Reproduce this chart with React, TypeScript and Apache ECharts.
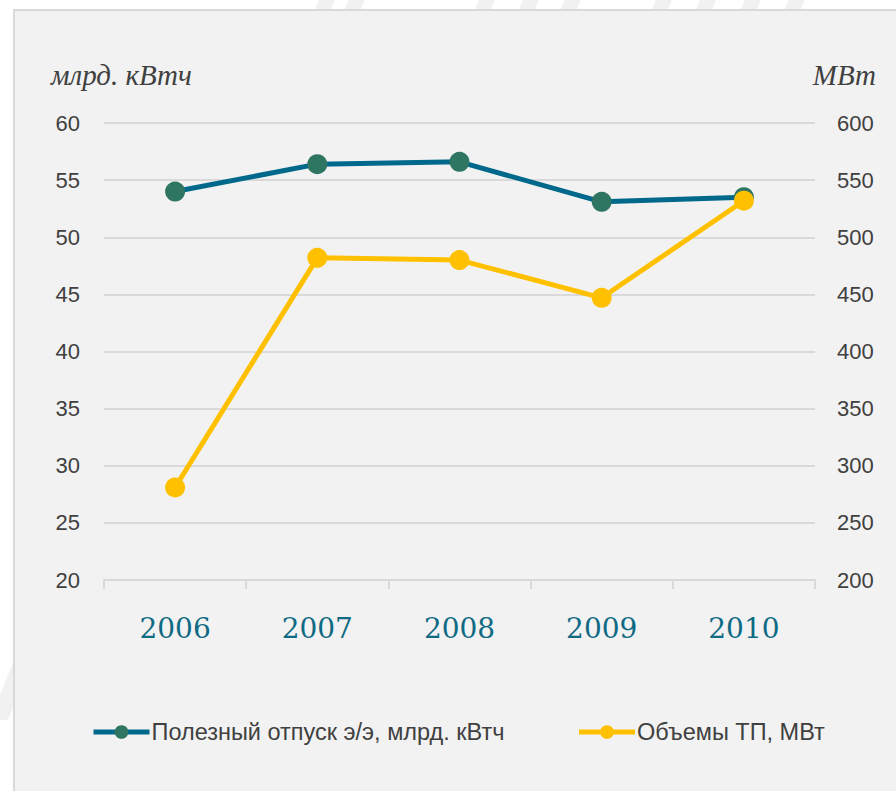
import React, { useEffect, useRef } from "react";
import * as echarts from "echarts";

const years = ["2006", "2007", "2008", "2009", "2010"];
const usefulSupply = [54.0, 56.4, 56.6, 53.1, 53.5];
const tpVolumes = [281, 482, 480, 447, 532];
const leftAxisName = "млрд. кВтч";
const rightAxisName = "МВт";
const seriesNames = ["Полезный отпуск э/э, млрд. кВтч", "Объемы ТП, МВт"];

export default function App() {
  const ref = useRef<HTMLDivElement>(null);
  useEffect(() => {
    if (!ref.current) return;
    const chart = echarts.init(ref.current, undefined, { renderer: "svg" });
    const stripe = (x: number, y0: number, y1: number, w: number) => ({
      type: "polygon",
      z: -20,
      silent: true,
      shape: {
        points: [
          [x, y1],
          [x + w, y1],
          [x + w + (y1 - y0) * 0.4, y0],
          [x + (y1 - y0) * 0.4, y0],
        ],
      },
      style: { fill: "#f1f1f1" },
    });
    const stripes: any[] = [];
    [314, 344, 474, 518, 560, 651, 695, 740, 784].forEach((x) => stripes.push(stripe(x, 0, 12, 16)));
    stripes.push(stripe(-10, 600, 720, 18));
    chart.setOption({
      animation: false,
      backgroundColor: "#ffffff",
      textStyle: { fontFamily: "Liberation Sans" },
      graphic: [
        ...stripes,
        {
          type: "rect",
          z: -10,
          silent: true,
          shape: { x: 14, y: 10, width: 900, height: 800 },
          style: { fill: "#f2f2f2", stroke: "#d9d9d9", lineWidth: 2 },
        },
        {
          type: "text",
          left: 51,
          top: 60,
          style: {
            text: leftAxisName,
            font: "italic 29px 'Liberation Serif'",
            fill: "#404040",
          },
        },
        {
          type: "text",
          right: 20,
          top: 60,
          style: {
            text: rightAxisName,
            font: "italic 29px 'Liberation Serif'",
            fill: "#404040",
          },
        },
      ],
      grid: { left: 104, right: 81, top: 123, bottom: 211, containLabel: false },
      legend: {
        left: 86,
        top: 715,
        itemWidth: 56,
        itemHeight: 17,
        itemGap: 72,
        lineStyle: { width: 5 },
        textStyle: { fontSize: 23.5, color: "#404040", fontFamily: "Liberation Sans", padding: [0, 0, 0, -3] },
        data: seriesNames,
      },
      xAxis: {
        type: "category",
        data: years,
        boundaryGap: true,
        axisLine: { lineStyle: { color: "#d9d9d9", width: 2 } },
        axisTick: { show: true, length: 9, lineStyle: { color: "#d9d9d9", width: 2 } },
        axisLabel: {
          margin: 34,
          fontSize: 28,
          color: "#0f6a84",
          fontFamily: "DejaVu Serif",
        },
        splitLine: { show: false },
      },
      yAxis: [
        {
          type: "value",
          min: 20,
          max: 60,
          interval: 5,
          axisLine: { show: false },
          axisTick: { show: false },
          axisLabel: { fontSize: 22, color: "#404040", margin: 24 },
          splitLine: { lineStyle: { color: "#d9d9d9", width: 2 } },
        },
        {
          type: "value",
          min: 200,
          max: 600,
          interval: 50,
          axisLine: { show: false },
          axisTick: { show: false },
          axisLabel: { fontSize: 22, color: "#404040", margin: 22 },
          splitLine: { show: false },
        },
      ],
      series: [
        {
          name: seriesNames[0],
          type: "line",
          yAxisIndex: 0,
          data: usefulSupply,
          symbol: "circle",
          symbolSize: 20,
          lineStyle: { color: "#00698b", width: 5 },
          itemStyle: { color: "#2e7562" },
        },
        {
          name: seriesNames[1],
          type: "line",
          yAxisIndex: 1,
          data: tpVolumes,
          symbol: "circle",
          symbolSize: 20,
          lineStyle: { color: "#ffc000", width: 5 },
          itemStyle: { color: "#ffc000" },
        },
      ],
    });
    return () => chart.dispose();
  }, []);
  return (
    <div
      ref={ref}
      style={{ position: "absolute", left: 0, top: 0, width: 896, height: 791 }}
    />
  );
}
